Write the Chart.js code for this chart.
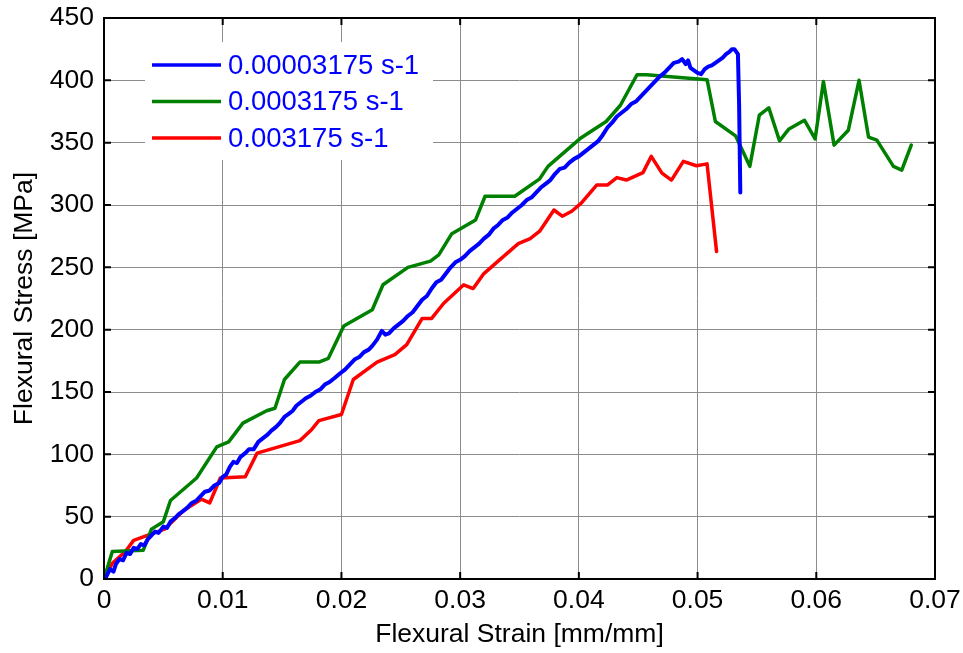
<!DOCTYPE html>
<html>
<head>
<meta charset="utf-8">
<title>Flexural stress vs strain</title>
<script src="https://cdn.jsdelivr.net/npm/chart.js@4.4.1/dist/chart.umd.min.js"></script>
<style>
  body { margin: 0; background: #fff; }
  #wrap { width: 963px; height: 653px; }
</style>
</head>
<body>
<div id="wrap"><canvas id="chart" width="963" height="653"></canvas></div>
<script>
// values
const seriesLabels = ['0.00003175 s-1', '0.0003175 s-1', '0.003175 s-1'];
const seriesColors = ['#0000ff', '#008000', '#ff0000'];

const blueStrain = [0, 0.0002, 0.0005, 0.0008, 0.0010, 0.0013, 0.0016, 0.0019, 0.0022, 0.0025, 0.0028, 0.0031, 0.0034, 0.0037, 0.0040, 0.0043, 0.0046, 0.0050, 0.0053, 0.0056, 0.0060, 0.0063, 0.0066, 0.0070, 0.0074, 0.0078, 0.0081, 0.0085, 0.0089, 0.0093, 0.0097, 0.0100, 0.0103, 0.0106, 0.0109, 0.0112, 0.0115, 0.0119, 0.0122, 0.0126, 0.0130, 0.0134, 0.0138, 0.0141, 0.0145, 0.0148, 0.0152, 0.0155, 0.0159, 0.0162, 0.0166, 0.0170, 0.0174, 0.0178, 0.0182, 0.0186, 0.0190, 0.0194, 0.0199, 0.0203, 0.0207, 0.0211, 0.0215, 0.0219, 0.0223, 0.0226, 0.0230, 0.0234, 0.0237, 0.0240, 0.0244, 0.0248, 0.0252, 0.0256, 0.0260, 0.0264, 0.0268, 0.0272, 0.0276, 0.0280, 0.0284, 0.0288, 0.0292, 0.0296, 0.0300, 0.0304, 0.0308, 0.0312, 0.0316, 0.0320, 0.0324, 0.0328, 0.0332, 0.0336, 0.0340, 0.0344, 0.0348, 0.0352, 0.0356, 0.0360, 0.0364, 0.0368, 0.0372, 0.0376, 0.0380, 0.0384, 0.0388, 0.0392, 0.0396, 0.0400, 0.0404, 0.0408, 0.0412, 0.0416, 0.0420, 0.0424, 0.0428, 0.0432, 0.0436, 0.0440, 0.0444, 0.0448, 0.0452, 0.0456, 0.0460, 0.0464, 0.0468, 0.0472, 0.0476, 0.0480, 0.0484, 0.0487, 0.0490, 0.0492, 0.0494, 0.0497, 0.0500, 0.0503, 0.0506, 0.0509, 0.0512, 0.0515, 0.0518, 0.0521, 0.0524, 0.0527, 0.0529, 0.0531, 0.0534, 0.0535, 0.0536];
const blueStress = [0, 2, 8, 6, 12, 16, 15, 21, 20, 25, 24, 28, 27, 32, 35, 38, 37, 42, 41, 46, 49, 52, 54, 57, 61, 63, 66, 70, 71, 75, 77, 82, 84, 90, 94, 93, 98, 101, 104, 104, 110, 113, 116, 119, 122, 125, 130, 132, 135, 139, 142, 145, 147, 150, 152, 156, 158, 161, 165, 168, 172, 176, 178, 182, 184, 187, 192, 199, 196, 197, 201, 204, 207, 211, 214, 219, 224, 227, 233, 238, 240, 245, 250, 254, 256, 259, 263, 266, 269, 273, 276, 281, 284, 288, 290, 294, 297, 300, 304, 306, 310, 314, 317, 320, 325, 329, 330, 334, 337, 339, 342, 345, 348, 351, 356, 362, 366, 371, 374, 377, 381, 383, 387, 391, 395, 399, 403, 406, 410, 414, 415, 417, 413, 416, 410, 408, 406, 405, 409, 411, 412, 414, 416, 418, 421, 423, 425, 425, 421, 380, 310];

const greenStrain = [0, 0.0007, 0.0033, 0.0040, 0.0050, 0.0056, 0.0078, 0.0095, 0.0105, 0.0117, 0.0137, 0.0144, 0.0152, 0.0165, 0.0181, 0.0189, 0.0202, 0.0226, 0.0235, 0.0256, 0.0275, 0.0282, 0.0293, 0.0313, 0.0321, 0.0346, 0.0367, 0.0374, 0.0402, 0.0423, 0.0435, 0.0449, 0.0457, 0.0508, 0.0515, 0.0532, 0.0544, 0.0552, 0.0560, 0.0569, 0.0577, 0.0590, 0.0599, 0.0606, 0.0615, 0.0627, 0.0636, 0.0644, 0.0651, 0.0665, 0.0672, 0.0680];
const greenStress = [0, 22, 23, 40, 46, 63, 81, 106, 110, 125, 135, 137, 160, 174, 174, 177, 203, 216, 236, 250, 255, 260, 277, 288, 307, 307, 321, 331, 354, 367, 380, 404.5, 404.5, 400.5, 367, 355.5, 331, 372, 378, 351.5, 361, 368, 353, 399, 348, 360, 400, 354.5, 352, 331, 328, 348];

const redStrain = [0, 0.0007, 0.0018, 0.0025, 0.0051, 0.0067, 0.0082, 0.0089, 0.0098, 0.0119, 0.0129, 0.0165, 0.0175, 0.0181, 0.0200, 0.0210, 0.0230, 0.0245, 0.0255, 0.0268, 0.0276, 0.0286, 0.0303, 0.0311, 0.0320, 0.0332, 0.0349, 0.0359, 0.0367, 0.0379, 0.0386, 0.0394, 0.0402, 0.0415, 0.0424, 0.0432, 0.0440, 0.0454, 0.0461, 0.0470, 0.0478, 0.0488, 0.0499, 0.0508, 0.0516];
const redStress = [0, 12.5, 22, 31, 40, 55, 64, 61, 81, 82, 101, 111, 120, 127, 132, 160, 174, 180, 188, 209, 209, 221, 236, 233, 245, 255, 269, 273, 279, 296, 291, 295, 301.5, 316, 316, 322, 320, 326, 339, 325.6, 320, 335, 331.5, 333, 262.7];

const xTickLabels = ['0', '0.01', '0.02', '0.03', '0.04', '0.05', '0.06', '0.07'];
const yTickLabels = ['0', '50', '100', '150', '200', '250', '300', '350', '400', '450'];

const FONT = '"Liberation Sans", Arial, sans-serif';

function toPoints(xs, ys) {
  return xs.map((x, i) => ({ x: x, y: ys[i] }));
}

// box round the plot plus MATLAB style inward ticks
const framePlugin = {
  id: 'frame',
  afterDraw(chart) {
    const { ctx, chartArea: a, scales } = chart;
    ctx.save();
    ctx.strokeStyle = '#000';
    ctx.lineWidth = 2;
    ctx.strokeRect(a.left, a.top, a.right - a.left, a.bottom - a.top);
    ctx.beginPath();
    scales.x.ticks.forEach(t => {
      const px = scales.x.getPixelForValue(t.value);
      ctx.moveTo(px, a.bottom); ctx.lineTo(px, a.bottom - 7);
      ctx.moveTo(px, a.top); ctx.lineTo(px, a.top + 7);
    });
    scales.y.ticks.forEach(t => {
      const py = scales.y.getPixelForValue(t.value);
      ctx.moveTo(a.left, py); ctx.lineTo(a.left + 7, py);
      ctx.moveTo(a.right, py); ctx.lineTo(a.right - 7, py);
    });
    ctx.stroke();
    ctx.restore();
  }
};

// legend sits inside the plot, top left, all text in blue
const legendPlugin = {
  id: 'insideLegend',
  afterDatasetsDraw(chart) {
    const { ctx } = chart;
    ctx.save();
    ctx.fillStyle = '#fff';
    ctx.fillRect(145, 42, 288, 118);
    ctx.font = '27.5px ' + FONT;
    ctx.textBaseline = 'middle';
    chart.data.datasets.forEach((ds, i) => {
      const y = 65 + i * 36.5;
      ctx.strokeStyle = ds.borderColor;
      ctx.lineWidth = 3.5;
      ctx.beginPath();
      ctx.moveTo(152, y);
      ctx.lineTo(221, y);
      ctx.stroke();
      ctx.fillStyle = '#0000ff';
      ctx.fillText(ds.label, 228, y + 1);
    });
    ctx.restore();
  }
};

new Chart(document.getElementById('chart'), {
  type: 'line',
  data: {
    datasets: [
      { label: seriesLabels[0], data: toPoints(blueStrain, blueStress), borderColor: seriesColors[0], borderWidth: 4 },
      { label: seriesLabels[1], data: toPoints(greenStrain, greenStress), borderColor: seriesColors[1], borderWidth: 3.5 },
      { label: seriesLabels[2], data: toPoints(redStrain, redStress), borderColor: seriesColors[2], borderWidth: 3.5 }
    ]
  },
  options: {
    responsive: false,
    animation: false,
    elements: { point: { radius: 0 }, line: { tension: 0, borderJoinStyle: 'round', borderCapStyle: 'round' } },
    layout: { padding: { left: 0, right: 28, top: 18, bottom: 0 } },
    plugins: { legend: { display: false }, tooltip: { enabled: false } },
    scales: {
      x: {
        type: 'linear',
        min: 0, max: 0.07,
        afterFit: s => { s.height = 74; s.paddingLeft = 0; s.paddingRight = 0; },
        afterBuildTicks: s => { s.ticks = xTickLabels.map((_, i) => ({ value: i * 0.01 })); },
        ticks: {
          callback: (v, i) => xTickLabels[i],
          font: { family: FONT, size: 26.5 },
          color: '#000',
          padding: 6,
          maxRotation: 0
        },
        grid: { color: '#8c8c8c', lineWidth: 1, drawTicks: false },
        border: { display: false },
        title: { display: true, text: 'Flexural Strain [mm/mm]', font: { family: FONT, size: 26.5 }, color: '#000', padding: { top: 0, bottom: 2 } }
      },
      y: {
        type: 'linear',
        min: 0, max: 450,
        afterFit: s => { s.width = 104; s.paddingTop = 0; s.paddingBottom = 0; },
        afterBuildTicks: s => { s.ticks = yTickLabels.map((_, i) => ({ value: i * 50 })); },
        ticks: {
          callback: (v, i) => yTickLabels[i],
          font: { family: FONT, size: 26.5 },
          color: '#000',
          padding: 10
        },
        grid: { color: '#8c8c8c', lineWidth: 1, drawTicks: false },
        border: { display: false },
        title: { display: true, text: 'Flexural Stress [MPa]', font: { family: FONT, size: 26.5 }, color: '#000', padding: { top: 9, bottom: 0 } }
      }
    }
  },
  plugins: [framePlugin, legendPlugin]
});
</script>
</body>
</html>
